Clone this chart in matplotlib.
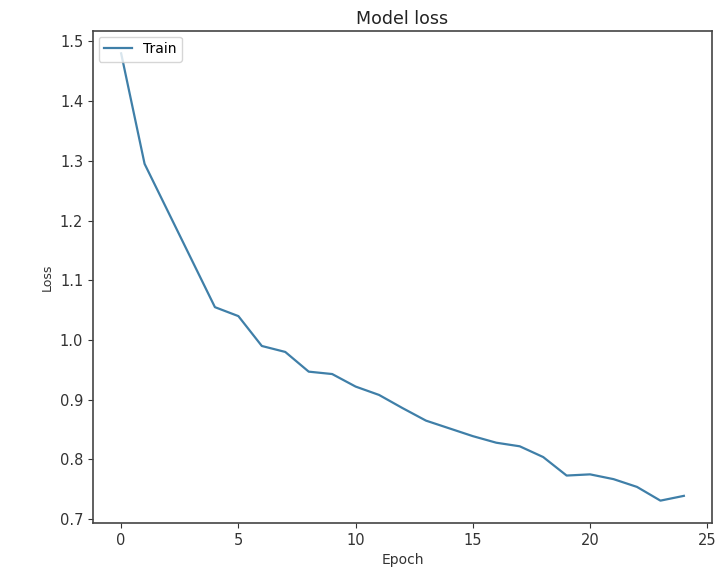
import matplotlib
matplotlib.use("Agg")
import matplotlib.pyplot as plt

# training loss per epoch
epochs = list(range(25))
train_loss = [
    1.480, 1.295, 1.215, 1.135, 1.055, 1.040, 0.990, 0.980, 0.947, 0.943,
    0.922, 0.908, 0.886, 0.865, 0.852, 0.839, 0.828, 0.822, 0.804, 0.773,
    0.775, 0.767, 0.754, 0.731, 0.739,
]
series_name = "Train"
title = "Model loss"
x_label = "Epoch"
y_label = "Loss"

fig = plt.figure(figsize=(7.22, 5.69), dpi=100)
ax = fig.add_subplot(111)
fig.subplots_adjust(left=93 / 722, right=712 / 722, top=1 - 31 / 569, bottom=1 - 523 / 569)

ax.plot(epochs, train_loss, color="#3f7fa8", linewidth=1.6, label=series_name)

ax.set_title(title, fontsize=12.5, color="#222222", pad=5)
ax.set_xlabel(x_label, fontsize=10, color="#333333")
ax.set_ylabel(y_label, fontsize=9, color="#333333")
ax.tick_params(labelsize=10.5, colors="#333333")
for sp in ax.spines.values():
    sp.set_linewidth(1.2)
    sp.set_color("#444444")
ax.legend(loc="upper left", fontsize=10, borderaxespad=0.4)

fig.savefig("out.png", dpi=100)
